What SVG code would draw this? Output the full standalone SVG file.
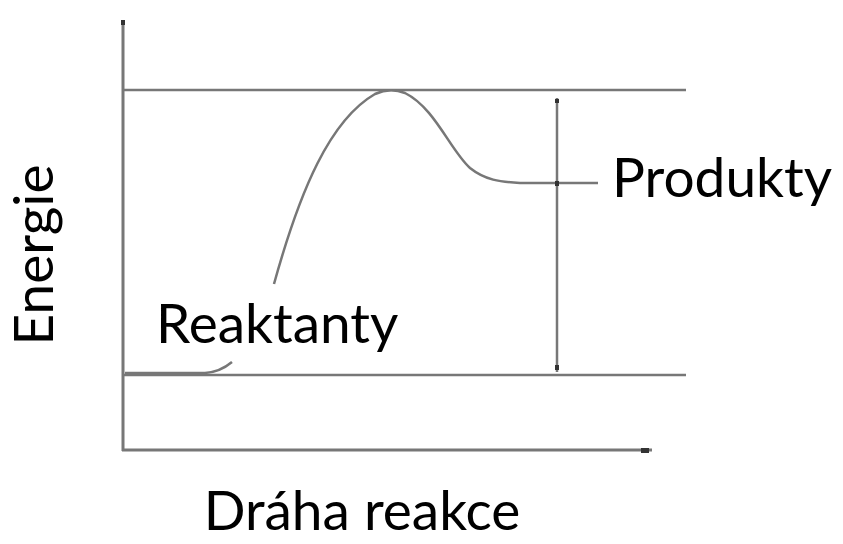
<svg xmlns="http://www.w3.org/2000/svg" width="843" height="544" viewBox="0 0 843 544">
<style>
.ax{stroke:#777;stroke-width:3;fill:none}
.ln{stroke:#777;stroke-width:2.5;fill:none}
.cv{stroke:#777;stroke-width:2.5;fill:none}
.t{font-family:Lato,"Open Sans","Liberation Sans",sans-serif;fill:#000;font-size:55px}
</style>
<rect width="843" height="544" fill="#fff"/>
<g id="axes">
<line class="ax" x1="123" y1="22" x2="123" y2="451"/>
<line class="ax" x1="122" y1="450" x2="652" y2="450"/>
<rect x="121" y="20" width="4" height="5" fill="#333"/>
<rect x="641" y="448" width="8" height="5" fill="#333"/>
</g>
<g id="levels">
<line class="ln" x1="123" y1="90" x2="686" y2="90"/>
<line class="ln" x1="123" y1="375" x2="686" y2="375"/>
</g>
<g id="curve">
<path class="cv" d="M125,373 L205,373 Q220,372 232,362"/>
<path class="cv" d="M274,284 C300,190 330,120 375,94 Q390,87 405,93 C435,108 450,150 470,168 C485,180 500,182 520,183 L598,183"/>
</g>
<g id="connectors">
<line class="ln" x1="557" y1="98" x2="557" y2="372" stroke="#999"/>
<rect x="555" y="99" width="4" height="4" fill="#333"/>
<rect x="555" y="181" width="4" height="5" fill="#333"/>
<rect x="555" y="365" width="4" height="5" fill="#333"/>
</g>
<g id="labels">
<text class="t" x="612" y="197">Produkty</text>
<text class="t" x="156" y="343">Reaktanty</text>
<text class="t" x="362" y="530" text-anchor="middle">Dráha reakce</text>
<text class="t" transform="translate(53,255) rotate(-90)" text-anchor="middle" font-size="53">Energie</text>
</g>
</svg>
